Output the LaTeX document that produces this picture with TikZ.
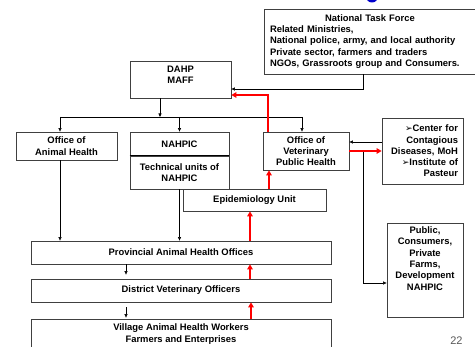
\documentclass[tikz,border=0pt]{standalone}
\usepackage{fontspec}
\setmainfont{Liberation Sans}
\newfontfamily\symfont{DejaVu Sans}
\usetikzlibrary{positioning, arrows.meta, calc}

\tikzset{
  unit/.style={draw=black!75, line width=0.8pt, fill=white, align=center, inner sep=0pt,
    font=\fontsize{9.4}{11.3}\selectfont\bfseries},
  txt/.style={align=center, inner sep=0pt, font=\fontsize{9.4}{11.3}\selectfont\bfseries},
  arr/.style={-{Triangle[length=3.5pt,width=3pt]}, line width=0.6pt},
  redarr/.style={-{Triangle[length=5pt,width=5.5pt]}, line width=2.2pt, red},
}
\newcommand{\bul}{{\symfont\fontsize{9}{9}\selectfont ➢}}

\begin{document}
\begin{tikzpicture}[x=1pt, y=-1pt]
  \clip (0,0) rectangle (475,347);
  \fill[white] (0,0) rectangle (475,347);

  % cut-off title above the picture
  \fill[blue!80!black] (372,-3) ellipse (6 and 5.5);

  % Draw the boxes
  \node[unit, minimum width=212pt, minimum height=65pt, text width=200pt, align=left] (ntf) at (370,41.5)
    {\makebox[200pt]{National Task Force}\\
     Related Ministries,\\
     National police, army, and local authority\\
     Private sector, farmers and traders\\
     NGOs, Grassroots group and Consumers.};
  \node[unit, minimum width=101pt, minimum height=37pt] (dahp) at (180.5,79.5) {};
  \node[txt, below=5pt of dahp.north] (dahptext) {DAHP\\MAFF};
  \node[unit, minimum width=101pt, minimum height=28pt] (oah) at (66.5,146) {Office of\\Animal Health};
  \node[unit, minimum width=143pt, minimum height=22pt] (epi) at (254.5,200) {Epidemiology Unit};
  \node[unit, minimum width=99pt, minimum height=24pt] (nahpic) at (179.5,144) {NAHPIC};
  \node[unit, minimum width=99pt, minimum height=33pt] (tech) at (179.5,172.5) {Technical units of\\NAHPIC};
  \draw[line width=1.2pt] (tech.north west) -- (tech.north east);
  \node[unit, minimum width=86pt, minimum height=38pt] (vph) at (306,151) {Office of\\Veterinary\\Public Health};
  \node[unit, minimum width=81pt, minimum height=66pt, text width=71pt, align=right] (ccd) at (422.5,151)
    {\bul Center for\\Contagious\\Diseases, MoH\\\bul Institute of\\Pasteur};
  \node[unit, minimum width=76pt, minimum height=94pt] (pub) at (425,270) {};
  \node[txt, below=4pt of pub.north] (pubtext) {Public,\\Consumers,\\Private\\Farms,\\Development\\NAHPIC};
  \node[unit, minimum width=300pt, minimum height=23pt] (prov) at (181,252.5) {Provincial Animal Health Offices};
  \node[unit, minimum width=300pt, minimum height=23pt] (dist) at (181,290.5) {District Veterinary Officers};
  \node[unit, minimum width=300pt, minimum height=30pt] (vill) at (181,334) {Village Animal Health Workers\\Farmers and Enterprises};

  % Reporting lines
  \coordinate (bus) at (160,117);
  \coordinate (busL) at (60,117);
  \coordinate (busR) at (302,117);
  \coordinate (downx) at (126,0);
  \coordinate (redx) at (250,0);
  \coordinate (split) at ($(vph.east)!0.42!(ccd.west)$);

  \draw[arr] ([xshift=-7pt]ntf.south) |- ([yshift=-9.5pt]dahp.east);
  \draw[arr] (dahp.south -| bus) -- (bus);
  \draw[line width=0.6pt] (busL) -- (busR);
  \draw[arr] (busL) -- (busL |- oah.north);
  \draw[arr] (bus -| nahpic.north) -- (nahpic.north);
  \draw[arr] (busR) -- (busR |- vph.north);
  \draw[arr] (busL |- oah.south) -- (busL |- prov.north);
  \draw[arr] (tech.south) -- (tech.south |- prov.north);
  \draw[arr] ([yshift=9pt]ccd.west) -- ([yshift=9pt]vph.east);
  \draw[arr] (split) |- ([yshift=-13pt]pub.west);
  \draw[arr] (downx |- prov.south) -- ([yshift=4pt]downx |- dist.north);
  \draw[arr] ([yshift=-5pt]downx |- dist.south) -- ([yshift=1pt]downx |- vill.north);

  % Reporting back (red)
  \draw[redarr] ([xshift=-38pt]vph.north) |- ([yshift=-15.5pt]dahp.east);
  \draw[redarr] (vph.east) -- (ccd.west);
  \draw[redarr] ([xshift=14.5pt]epi.north) -- ([xshift=14.5pt]epi.north |- vph.south);
  \draw[redarr] (redx |- prov.north) -- (redx |- epi.south);
  \draw[redarr] (redx |- dist.north) -- (redx |- prov.south);
  \draw[redarr] ([xshift=1pt]redx |- vill.north) -- ([xshift=1pt]redx |- dist.south);

  % page number
  \node[inner sep=0pt, text=black!65, font=\fontsize{11}{12}\selectfont] (pagenum) at (456.5,341) {22};
\end{tikzpicture}
\end{document}
